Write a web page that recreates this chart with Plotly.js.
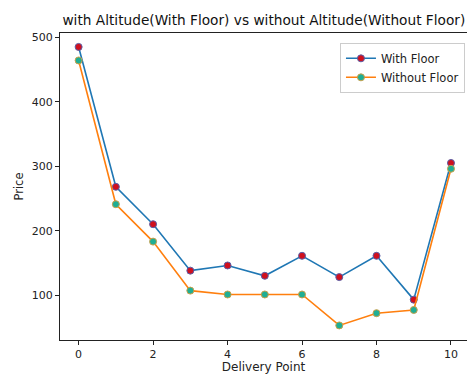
<!DOCTYPE html>
<html>
<head>
<meta charset="utf-8">
<script src="https://cdn.plot.ly/plotly-3.0.1.min.js"></script>
<style>html,body{margin:0;padding:0;background:#fff;}#chart{width:467px;height:374px;}</style>
</head>
<body>
<div id="chart"></div>
<script>
const deliveryPoints = [0, 1, 2, 3, 4, 5, 6, 7, 8, 9, 10];
const withFloor = [485, 268, 210, 138, 146, 130, 161, 128, 161, 93, 305];
const withoutFloor = [464, 241, 183, 107, 101, 101, 101, 53, 72, 77, 296];
const xTicks = [0, 2, 4, 6, 8, 10];
const yTicks = [100, 200, 300, 400, 500];

const traces = [
  {
    x: deliveryPoints, y: withFloor, name: 'With Floor', mode: 'lines+markers',
    line: {color: '#1f77b4', width: 1.6},
    marker: {color: '#d0101e', size: 7, line: {color: '#5a5fa8', width: 1}}
  },
  {
    x: deliveryPoints, y: withoutFloor, name: 'Without Floor', mode: 'lines+markers',
    line: {color: '#ff7f0e', width: 1.6},
    marker: {color: '#1fae94', size: 7, line: {color: '#c8a04a', width: 1}}
  }
];

const layout = {
  width: 467, height: 374,
  margin: {l: 60, r: 0, t: 33, b: 34},
  paper_bgcolor: '#fff', plot_bgcolor: '#fff',
  font: {family: 'DejaVu Sans', color: '#222', size: 11},
  title: {text: 'with Altitude(With Floor) vs without Altitude(Without Floor)', font: {size: 13.7, color: '#111'}, x: 0.565, xanchor: 'center', y: 0.945, yanchor: 'middle'},
  xaxis: {
    range: [-0.5, 10.43], tickvals: xTicks, ticks: 'outside', ticklen: 4, tickcolor: '#222',
    showline: true, linecolor: '#222', linewidth: 1, mirror: true, showgrid: false, zeroline: false,
    title: {text: 'Delivery Point', font: {size: 12}, standoff: 4}
  },
  yaxis: {
    range: [30.4, 506.6], tickvals: yTicks, ticks: 'outside', ticklen: 4, tickcolor: '#222',
    showline: true, linecolor: '#222', linewidth: 1, showgrid: false, zeroline: false,
    title: {text: 'Price', font: {size: 11.5}, standoff: 5}
  },
  legend: {
    x: 0.995, xanchor: 'right', y: 0.968, yanchor: 'top',
    bgcolor: 'rgba(255,255,255,0.8)', bordercolor: '#ccc', borderwidth: 1,
    font: {size: 11.5}, tracegroupgap: 0, itemwidth: 30
  },
  showlegend: true
};

Plotly.newPlot('chart', traces, layout, {displayModeBar: false, staticPlot: true});
</script>
</body>
</html>
